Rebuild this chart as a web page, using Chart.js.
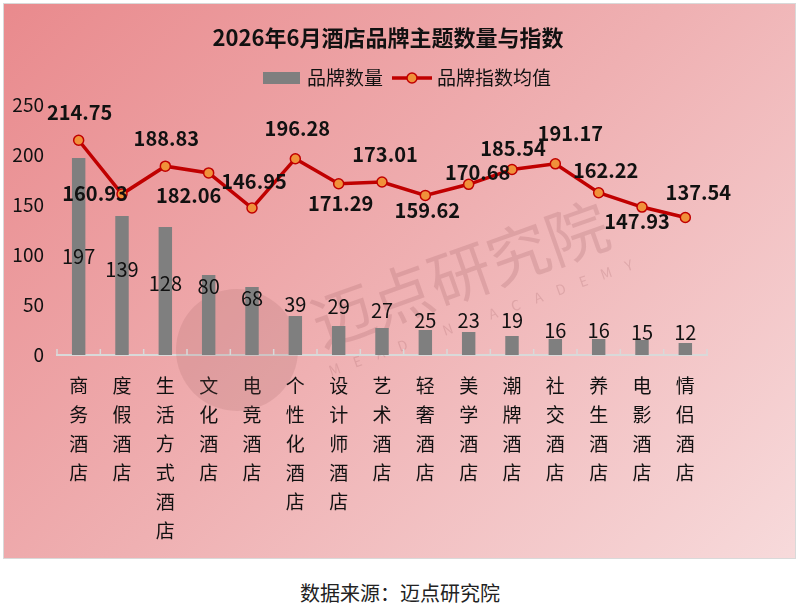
<!DOCTYPE html>
<html lang="zh-CN">
<head>
    <meta charset="UTF-8">
    <title>2026年6月酒店品牌主题数量与指数</title>
    <script src="https://cdn.jsdelivr.net/npm/chart.js"></script>
    <style>
        html, body {
            margin: 0;
            padding: 0;
            background: #ffffff;
            width: 800px;
            height: 606px;
            overflow: hidden;
            font-family: "Noto Sans CJK SC", sans-serif;
        }
        .panel {
            position: absolute;
            left: 3px;
            top: 3px;
            width: 793px;
            height: 556px;
            box-sizing: border-box;
            border: 1px solid #d9d9d9;
            background: linear-gradient(135deg, #e98a8d 0%, #efb0b2 50%, #f7dadb 100%);
        }
        .panel canvas {
            width: 791px !important;
            height: 554px !important;
        }
        .source {
            position: absolute;
            left: 0;
            width: 800px;
            top: 578px;
            text-align: center;
            font-size: 20px;
            color: #222;
        }
    </style>
</head>
<body>
    <div class="panel"><canvas id="chart"></canvas></div>
    <div class="source">数据来源：迈点研究院</div>

    <script>
        const categories = ['商务酒店', '度假酒店', '生活方式酒店', '文化酒店', '电竞酒店', '个性化酒店', '设计师酒店',
            '艺术酒店', '轻奢酒店', '美学酒店', '潮牌酒店', '社交酒店', '养生酒店', '电影酒店', '情侣酒店'];
        const brandCounts = [197, 139, 128, 80, 68, 39, 29, 27, 25, 23, 19, 16, 16, 15, 12];
        const indexAvg = [214.75, 160.93, 188.83, 182.06, 146.95, 196.28, 171.29, 173.01, 159.62, 170.68,
            185.54, 191.17, 162.22, 147.93, 137.54];
        const yMax = 250;
        const yStep = 50;

        // label nudges (pixels), the source chart had hand-placed labels
        const barLabelDy = [98, 53, 56, 11, 11, -12, -20, -18, -10, -12, -16, -9, -9, -8, -11];
        const lineLabelDx = [1, -27, 1, -20, 2, 2, 2, 3, 2, 9, 1, 15, 7, -5, 13];
        const lineLabelDy = [-28, -1, -28, 22, -27, -30, 20, -28, 15, -12, -21, -30, -22, 14, -25];

        const FONT = '"Noto Sans CJK SC", "Microsoft YaHei", sans-serif';
        const BAR_COLOR = '#7f7f7f';
        const LINE_COLOR = '#c00000';
        const POINT_COLOR = '#f0913a';

        const decorPlugin = {
            id: 'decor',
            beforeDatasetsDraw(chart) {
                const ctx = chart.ctx;
                ctx.save();
                // faint watermark
                ctx.fillStyle = 'rgba(150, 85, 90, 0.16)';
                ctx.beginPath();
                ctx.arc(233, 346, 61, 0, Math.PI * 2);
                ctx.fill();
                ctx.translate(456, 270);
                ctx.rotate(-19.5 * Math.PI / 180);
                ctx.font = '62px ' + FONT;
                ctx.textAlign = 'center';
                ctx.textBaseline = 'middle';
                ctx.fillStyle = 'rgba(150, 85, 90, 0.2)';
                ctx.fillText('迈点研究院', 0, 0);
                ctx.font = '14px ' + FONT;
                const word = 'MEADIN ACADEMY';
                for (let i = 0; i < word.length; i++) {
                    ctx.fillText(word[i], -150 + i * 24, 48);
                }
                ctx.restore();

                // x axis tick marks pointing up, at category boundaries
                const x = chart.scales.x;
                const base = chart.chartArea.bottom;
                const half = (x.getPixelForValue(1) - x.getPixelForValue(0)) / 2;
                ctx.save();
                ctx.strokeStyle = '#d9d9d9';
                ctx.lineWidth = 1.5;
                for (let i = 0; i <= categories.length; i++) {
                    const px = x.getPixelForValue(0) - half + i * half * 2;
                    ctx.beginPath();
                    ctx.moveTo(px, base);
                    ctx.lineTo(px, base - 6);
                    ctx.stroke();
                }
                ctx.restore();
            },
            afterDatasetsDraw(chart) {
                const ctx = chart.ctx;
                ctx.save();
                ctx.textAlign = 'center';
                ctx.textBaseline = 'middle';
                ctx.fillStyle = '#111';

                const bars = chart.getDatasetMeta(0).data;
                ctx.font = '20px ' + FONT;
                bars.forEach((bar, i) => {
                    ctx.fillText(String(brandCounts[i]), bar.x, bar.y + barLabelDy[i]);
                });

                const pts = chart.getDatasetMeta(1).data;
                ctx.font = 'bold 20px ' + FONT;
                pts.forEach((pt, i) => {
                    ctx.fillText(indexAvg[i].toFixed(2), pt.x + lineLabelDx[i], pt.y + lineLabelDy[i]);
                });
                ctx.restore();
            },
            afterDraw(chart) {
                const ctx = chart.ctx;
                ctx.save();
                ctx.fillStyle = '#111';
                ctx.textBaseline = 'middle';
                ctx.textAlign = 'center';
                ctx.font = 'bold 22px ' + FONT;
                ctx.fillText('2026年6月酒店品牌主题数量与指数', 384, 34);

                // legend
                ctx.font = '19px ' + FONT;
                ctx.textAlign = 'left';
                const ly = 74;
                ctx.fillStyle = BAR_COLOR;
                ctx.fillRect(259, ly - 6, 37, 12);
                ctx.fillStyle = '#111';
                ctx.fillText('品牌数量', 303, ly);
                ctx.strokeStyle = LINE_COLOR;
                ctx.lineWidth = 3.5;
                ctx.beginPath();
                ctx.moveTo(388, ly);
                ctx.lineTo(428, ly);
                ctx.stroke();
                ctx.beginPath();
                ctx.arc(408, ly, 5, 0, Math.PI * 2);
                ctx.fillStyle = POINT_COLOR;
                ctx.fill();
                ctx.lineWidth = 1.5;
                ctx.stroke();
                ctx.fillStyle = '#111';
                ctx.fillText('品牌指数均值', 433, ly);
                ctx.restore();
            }
        };

        new Chart(document.getElementById('chart'), {
            data: {
                labels: categories.map(s => s.split('')),
                datasets: [
                    {
                        type: 'bar',
                        label: '品牌数量',
                        data: brandCounts,
                        backgroundColor: BAR_COLOR,
                        categoryPercentage: 1,
                        barPercentage: 0.31,
                        order: 2
                    },
                    {
                        type: 'line',
                        label: '品牌指数均值',
                        data: indexAvg,
                        borderColor: LINE_COLOR,
                        borderWidth: 3.5,
                        pointRadius: 5,
                        pointBorderWidth: 1.5,
                        pointBackgroundColor: POINT_COLOR,
                        pointBorderColor: LINE_COLOR,
                        tension: 0,
                        order: 1
                    }
                ]
            },
            options: {
                responsive: true,
                maintainAspectRatio: false,
                animation: false,
                layout: {
                    padding: { top: 101, right: 88, left: 0, bottom: 0 }
                },
                plugins: {
                    legend: { display: false },
                    title: { display: false },
                    tooltip: { enabled: false }
                },
                scales: {
                    x: {
                        offset: true,
                        grid: { display: false, drawTicks: false },
                        border: { display: true, color: '#d9d9d9', width: 2 },
                        ticks: {
                            color: '#111',
                            padding: 16,
                            maxRotation: 0,
                            autoSkip: false,
                            font: { family: FONT, size: 19, lineHeight: 1.53 }
                        },
                        afterFit(scale) { scale.height = 203; }
                    },
                    y: {
                        min: 0,
                        max: yMax,
                        grid: { display: false, drawTicks: false },
                        border: { display: false },
                        ticks: {
                            stepSize: yStep,
                            color: '#111',
                            padding: 13,
                            font: { family: FONT, size: 19 }
                        },
                        afterFit(scale) { scale.width = 53; }
                    }
                }
            },
            plugins: [decorPlugin]
        });
    </script>
</body>
</html>
